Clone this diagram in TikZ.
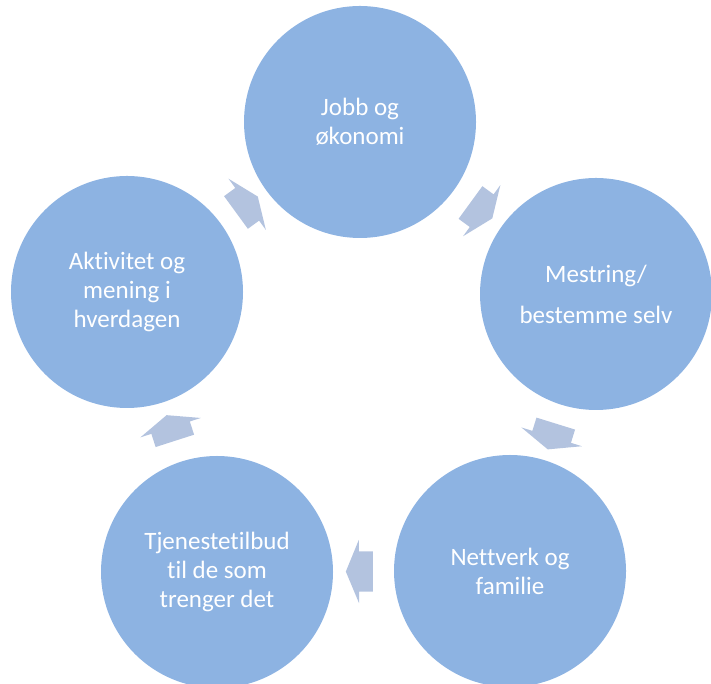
\documentclass[tikz,border=0pt]{standalone}
\usepackage{fontspec}
\setmainfont{Carlito}[Ligatures=NoCommon]
\usetikzlibrary{shapes.arrows}
\definecolor{circblue}{HTML}{8DB3E2}
\definecolor{arrowblue}{HTML}{B3C3DF}

\begin{document}
\begin{tikzpicture}[x=1pt,y=1pt,
  stage/.style={circle, fill=circblue, minimum size=232pt, inner sep=0pt,
    text=white, align=center, font=\fontsize{25}{29}\selectfont},
  flow/.style={single arrow, fill=arrowblue, minimum height=27pt,
    minimum width=0pt, inner xsep=0pt, inner ysep=20pt,
    single arrow head extend=11.5pt, single arrow tip angle=135,
    sloped, allow upside down}]

\useasboundingbox (0,0) rectangle (711,684);

\node[stage] (jobb) at (360,562) {Jobb og\\økonomi};
\node[stage] (mestring) at (596,390) {Mestring/\\[12pt]bestemme selv};
\node[stage] (nettverk) at (510,113) {Nettverk og\\familie};
\node[stage] (tjeneste) at (217,112) {Tjenestetilbud\\til de som\\trenger det};
\node[stage] (aktivitet) at (127,392) {Aktivitet og\\mening i\\hverdagen};

% piler
\path (jobb) -- node[flow] {} (mestring);
\path (mestring) -- node[flow] {} (nettverk);
\path (nettverk) -- node[flow] {} (tjeneste);
\path (tjeneste) -- node[flow] {} (aktivitet);
\path (aktivitet) -- node[flow] {} (jobb);

\end{tikzpicture}
\end{document}
